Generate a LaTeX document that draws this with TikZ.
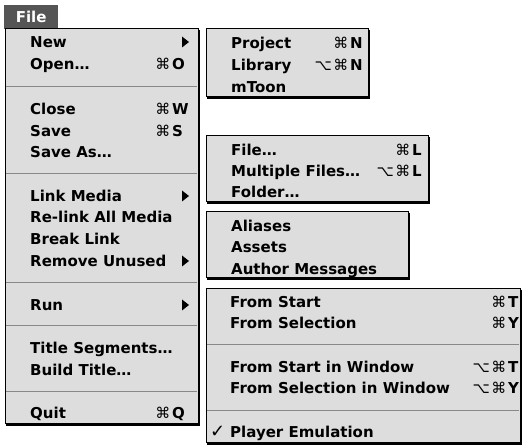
\documentclass[tikz,border=0pt]{standalone}
\usepackage{fontspec}
\setmainfont{DejaVu Sans}
\usetikzlibrary{positioning}
\definecolor{menubg}{HTML}{DDDDDD}
\definecolor{tabgray}{HTML}{555555}
\definecolor{sepgray}{HTML}{888888}
\newcommand{\menufont}{\fontsize{15}{18}\selectfont\bfseries}
\newcommand{\keyfont}{\fontsize{15}{18}\selectfont}
\tikzset{
    menu_panel/.style={draw=black, line width=1pt, fill=menubg,
        preaction={draw=black, fill=black, transform canvas={shift={(1.5pt,-1.5pt)}}}},
    menu_sep/.style={draw=sepgray, line width=1pt},
    menu_item/.style={anchor=base west, inner sep=0pt, font=\menufont},
    menu_key/.style={anchor=base west, inner sep=0pt, font=\keyfont},
    file_tab/.style={anchor=north west, fill=tabgray, text=white, font=\menufont,
        minimum width=54pt, minimum height=24pt, inner sep=0pt},
    % Submenu marker: small filled triangle pointing right
    submenu_arrow/.pic={
        \fill (0,-5.5) -- (7,0) -- (0,5.5) -- cycle;
    },
}

\begin{document}
\begin{tikzpicture}[x=1pt, y=-1pt]
    \useasboundingbox (0,0) rectangle (523,446);

    % Menu title
    \node[file_tab] (fileTab) at (4,5) {File};

    % Main menu
    \draw[menu_panel] (5,29) rectangle (198,424);
    \foreach \y in {87,174,283,326,392} \draw[menu_sep] (6,\y) -- (197,\y);

    \node[menu_item] (new)     at (30,47.5)  {New};
    \pic at (182,42) {submenu_arrow};
    \node[menu_item] (open)    at (30,69.5)  {Open…};
    \node[menu_item] (openKey) at (172,69.5) {O};
    \node[menu_key, base left=1.5pt of openKey] (openCmd) {⌘};

    \node[menu_item] (close)    at (30,114.5)  {Close};
    \node[menu_item] (closeKey) at (172,114.5) {W};
    \node[menu_key, base left=1.5pt of closeKey] (closeCmd) {⌘};
    \node[menu_item] (save)     at (30,136.5)  {Save};
    \node[menu_item] (saveKey)  at (172,136.5) {S};
    \node[menu_key, base left=1.5pt of saveKey] (saveCmd) {⌘};
    \node[menu_item] (saveAs)   at (30,157.5)  {Save As…};

    \node[menu_item] (linkMedia) at (30,201.5) {Link Media};
    \pic at (182,196) {submenu_arrow};
    \node[menu_item] (relink)    at (30,222.5) {Re-link All Media};
    \node[menu_item] (breakLink) at (30,244.5) {Break Link};
    \node[menu_item] (removeUnused) at (30,266.5) {Remove Unused};
    \pic at (182,261) {submenu_arrow};

    \node[menu_item] (run) at (30,310.5) {Run};
    \pic at (182,305) {submenu_arrow};

    \node[menu_item] (titleSeg)   at (30,353.5) {Title Segments…};
    \node[menu_item] (buildTitle) at (30,375.5) {Build Title…};

    \node[menu_item] (quit)    at (30,418.5)  {Quit};
    \node[menu_item] (quitKey) at (172,418.5) {Q};
    \node[menu_key, base left=1.5pt of quitKey] (quitCmd) {⌘};

    % Submenu: New
    \draw[menu_panel] (206,29) rectangle (368,97);
    \node[menu_item] (project)    at (231,48.5)  {Project};
    \node[menu_item] (projectKey) at (350,48.5)  {N};
    \node[menu_key, base left=1.5pt of projectKey] (projectCmd) {⌘};
    \node[menu_item] (library)    at (231,70.5)  {Library};
    \node[menu_item] (libraryKey) at (350,70.5)  {N};
    \node[menu_key, base left=1.5pt of libraryKey] (libraryCmd) {⌘};
    \node[menu_key, base left=1pt of libraryCmd] (libraryOpt) {⌥};
    \node[menu_item] (mtoon)      at (231,92.5)  {mToon};

    % Submenu: Open
    \draw[menu_panel] (206,136) rectangle (428,202);
    \node[menu_item] (file)      at (231,155.5) {File…};
    \node[menu_item] (fileKey)   at (412,155.5) {L};
    \node[menu_key, base left=1.5pt of fileKey] (fileCmd) {⌘};
    \node[menu_item] (multiple)  at (231,176.5) {Multiple Files…};
    \node[menu_item] (multiKey)  at (412,176.5) {L};
    \node[menu_key, base left=1.5pt of multiKey] (multiCmd) {⌘};
    \node[menu_key, base left=1pt of multiCmd] (multiOpt) {⌥};
    \node[menu_item] (folder)    at (231,197.5) {Folder…};

    % Submenu: Remove Unused
    \draw[menu_panel] (206,212) rectangle (408,278);
    \node[menu_item] (aliases)   at (231,231.5) {Aliases};
    \node[menu_item] (assets)    at (231,252.5) {Assets};
    \node[menu_item] (authorMsg) at (231,274.5) {Author Messages};

    % Submenu: Run
    \draw[menu_panel] (206,289) rectangle (520,443);
    \foreach \y in {345,411} \draw[menu_sep] (207,\y) -- (519,\y);
    \node[menu_item] (fromStart)    at (230,307.5) {From Start};
    \node[menu_item] (fromStartKey) at (508,307.5) {T};
    \node[menu_key, base left=1.5pt of fromStartKey] (fromStartCmd) {⌘};
    \node[menu_item] (fromSel)      at (230,328.5) {From Selection};
    \node[menu_item] (fromSelKey)   at (508,328.5) {Y};
    \node[menu_key, base left=1.5pt of fromSelKey] (fromSelCmd) {⌘};
    \node[menu_item] (startWin)     at (230,372.5) {From Start in Window};
    \node[menu_item] (startWinKey)  at (508,372.5) {T};
    \node[menu_key, base left=1.5pt of startWinKey] (startWinCmd) {⌘};
    \node[menu_key, base left=1pt of startWinCmd] (startWinOpt) {⌥};
    \node[menu_item] (selWin)       at (230,393.5) {From Selection in Window};
    \node[menu_item] (selWinKey)    at (508,393.5) {Y};
    \node[menu_key, base left=1.5pt of selWinKey] (selWinCmd) {⌘};
    \node[menu_key, base left=1pt of selWinCmd] (selWinOpt) {⌥};
    \node[menu_item, font=\fontsize{18}{20}\selectfont\bfseries] (playerCheck) at (210,437.5) {✓};
    \node[menu_item] (player)       at (230,437.5) {Player Emulation};
\end{tikzpicture}
\end{document}
